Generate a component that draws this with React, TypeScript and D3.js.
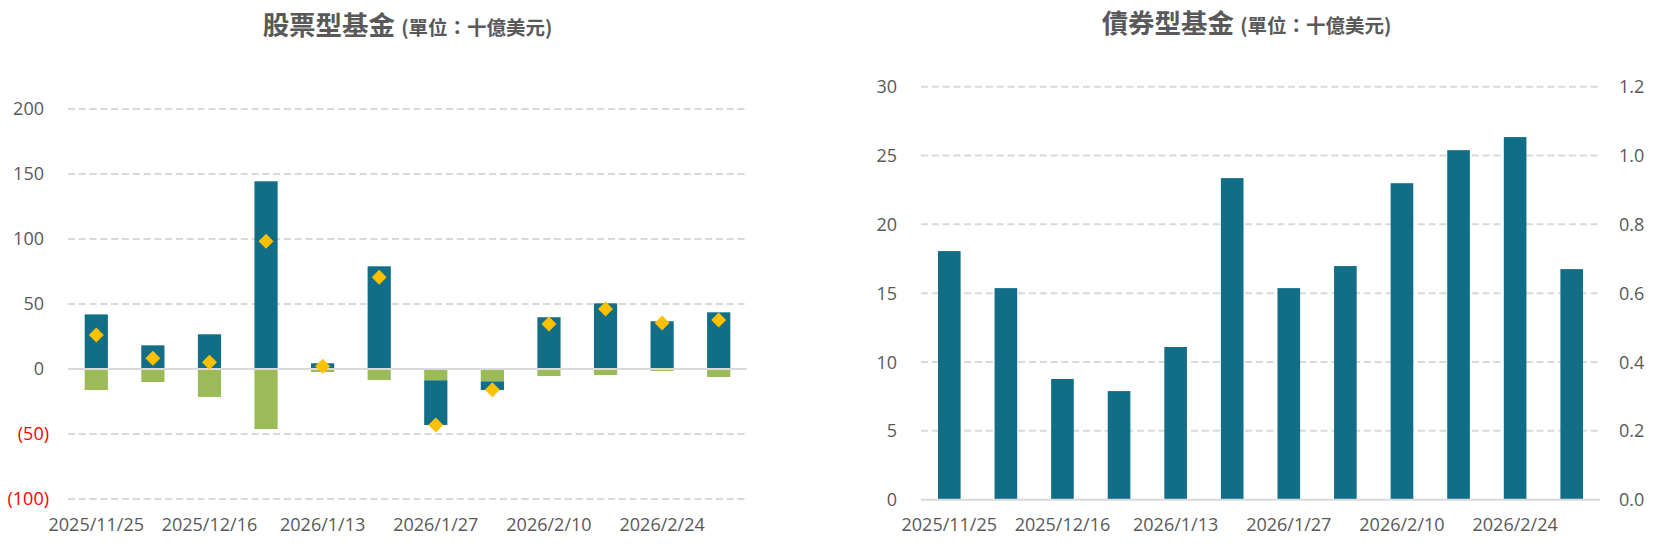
import React from "react";
import * as d3 from "d3";

const dates = [
  "2025/11/25", "2025/12/2", "2025/12/16", "2025/12/30", "2026/1/13", "2026/1/20",
  "2026/1/27", "2026/2/3", "2026/2/10", "2026/2/17", "2026/2/24", "2026/3/3",
];
const equityTeal = [42, 18.2, 26.7, 144.4, 4.4, 79, -34.4, -6.7, 39.8, 50.5, 36.7, 43.6];
const equityGreen = [-16.2, -10, -21.5, -46.2, -2.3, -8.5, -8.7, -9.5, -5.4, -4.6, -1.5, -6.2];
const equityNet = [26.2, 8.2, 5.2, 98.2, 2.1, 70.5, -43, -15.9, 34.6, 46.2, 35.4, 37.7];
const bondFlows = [18.06, 15.37, 8.77, 7.89, 11.09, 23.36, 15.37, 16.97, 22.99, 25.39, 26.34, 16.75];
const equityTicks = [-100, -50, 0, 50, 100, 150, 200];
const bondTicksLeft = [0, 5, 10, 15, 20, 25, 30];
const bondTicksRight = [0, 0.2, 0.4, 0.6, 0.8, 1.0, 1.2];

const TEAL = "#116E86";
const GREEN = "#9BBB59";
const GOLD = "#FFC000";
const GRID = "#D9D9D9";
const LABEL = "#595959";
const NUMFONT = "'Open Sans', 'Noto Sans', sans-serif";
const CJK = "'Noto Sans CJK TC', 'Noto Sans CJK SC', sans-serif";
const DASH = "7,3.8";

function Title({ cx, y, main }: { cx: number; y: number; main: string }) {
  return (
    <text x={cx} y={y} textAnchor="middle" fill={LABEL} fontFamily={CJK} fontWeight="bold">
      <tspan fontSize={26.5}>{main}</tspan>
      <tspan fontSize={19.5} dx={6}>(單位：十億美元)</tspan>
    </text>
  );
}

function EquityChart() {
  const x0 = 68, x1 = 747, yTop = 109, yBot = 499;
  const x = d3.scaleBand<string>().domain(dates).range([x0, x1]).paddingInner(0.59).paddingOuter(0.295);
  const y = d3.scaleLinear().domain([-100, 200]).range([yBot, yTop]);
  const rows = dates.map((d, i) => ({ date: d, green: equityGreen[i], teal: equityTeal[i] }));
  const stack = d3.stack<any>().keys(["green", "teal"]).offset(d3.stackOffsetDiverging);
  const series = stack(rows);
  const colors: Record<string, string> = { green: GREEN, teal: TEAL };
  const diamond = d3.symbol().type(d3.symbolSquare).size(112)();
  return (
    <g>
      <Title cx={407.5} y={35} main="股票型基金" />
      {equityTicks.map((t) => (
        <g key={t}>
          {t !== 0 && (
            <line x1={x0} x2={x1} y1={y(t)} y2={y(t)} stroke={GRID} strokeWidth={2} strokeDasharray={DASH} />
          )}
          <text
            x={t < 0 ? 49 : 44}
            y={y(t)}
            dy="0.36em"
            textAnchor="end"
            fontFamily={NUMFONT}
            fontSize={18}
            fill={t < 0 ? "#FF0000" : LABEL}
          >
            {t < 0 ? `(${Math.abs(t)})` : `${t}`}
          </text>
        </g>
      ))}
      {series.map((s) => (
        <g key={s.key} fill={colors[s.key]}>
          {s.map((d, i) => (
            <rect
              key={i}
              x={x(dates[i])}
              width={x.bandwidth()}
              y={y(Math.max(d[0], d[1]))}
              height={Math.abs(y(d[0]) - y(d[1]))}
            />
          ))}
        </g>
      ))}
      <line x1={x0} x2={x1} y1={y(0)} y2={y(0)} stroke={GRID} strokeWidth={2} />
      {equityNet.map((v, i) => (
        <path
          key={i}
          d={diamond as string}
          fill={GOLD}
          transform={`translate(${(x(dates[i]) as number) + x.bandwidth() / 2},${y(v)}) rotate(45)`}
        />
      ))}
      {dates.map((d, i) =>
        i % 2 === 0 ? (
          <text
            key={d}
            x={(x(d) as number) + x.bandwidth() / 2}
            y={531}
            textAnchor="middle"
            fontFamily={NUMFONT}
            fontSize={18}
            fill={LABEL}
          >
            {d}
          </text>
        ) : null
      )}
    </g>
  );
}

function BondChart() {
  const x0 = 921, x1 = 1600, yTop = 86.7, yBot = 499.7;
  const x = d3.scaleBand<string>().domain(dates).range([x0, x1]).paddingInner(0.6).paddingOuter(0.3);
  const y = d3.scaleLinear().domain([0, 30]).range([yBot, yTop]);
  const y2 = d3.scaleLinear().domain([0, 1.2]).range([yBot, yTop]);
  return (
    <g>
      <Title cx={1246.5} y={33} main="債券型基金" />
      {bondTicksLeft.map((t) => (
        <g key={t}>
          {t !== 0 && (
            <line x1={x0} x2={x1} y1={y(t)} y2={y(t)} stroke={GRID} strokeWidth={2} strokeDasharray={DASH} />
          )}
          <text x={897} y={y(t)} dy="0.36em" textAnchor="end" fontFamily={NUMFONT} fontSize={18} fill={LABEL}>
            {t}
          </text>
        </g>
      ))}
      {bondTicksRight.map((t) => (
        <text key={t} x={1619} y={y2(t)} dy="0.36em" textAnchor="start" fontFamily={NUMFONT} fontSize={18} fill={LABEL}>
          {d3.format(".1f")(t)}
        </text>
      ))}
      {bondFlows.map((v, i) => (
        <rect key={i} x={x(dates[i])} width={x.bandwidth()} y={y(v)} height={y(0) - y(v)} fill={TEAL} />
      ))}
      <line x1={x0} x2={x1} y1={y(0)} y2={y(0)} stroke={GRID} strokeWidth={2} />
      {dates.map((d, i) =>
        i % 2 === 0 ? (
          <text
            key={d}
            x={(x(d) as number) + x.bandwidth() / 2}
            y={531}
            textAnchor="middle"
            fontFamily={NUMFONT}
            fontSize={18}
            fill={LABEL}
          >
            {d}
          </text>
        ) : null
      )}
    </g>
  );
}

export default function App() {
  return (
    <svg
      width={1657}
      height={546}
      style={{ position: "absolute", left: 0, top: 0, background: "#fff" }}
    >
      <rect width={1657} height={546} fill="#fff" />
      <EquityChart />
      <BondChart />
    </svg>
  );
}
